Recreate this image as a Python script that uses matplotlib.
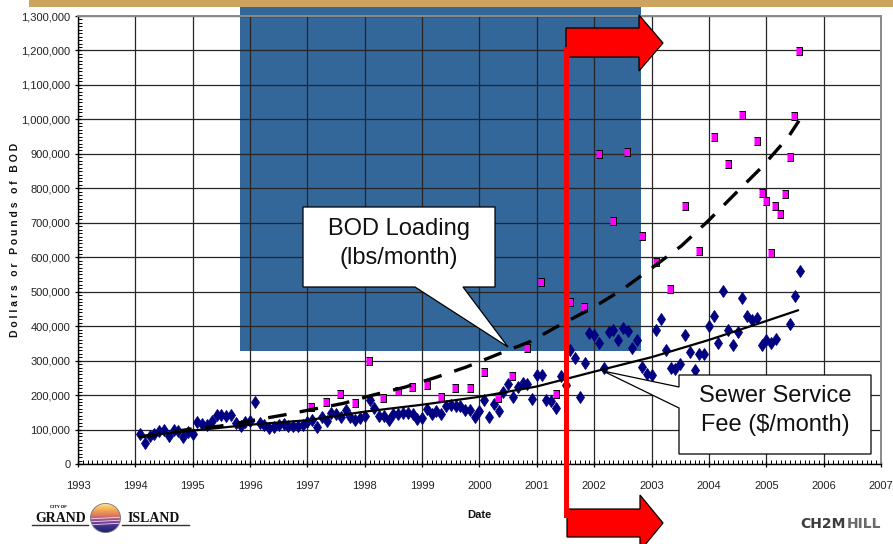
import numpy as np
import pandas as pd
import matplotlib
matplotlib.use('Agg')
import matplotlib.pyplot as plt
from matplotlib.patches import Polygon, Rectangle, Circle
from matplotlib.lines import Line2D
from matplotlib.colors import LinearSegmentedColormap
from matplotlib.ticker import MultipleLocator, FuncFormatter

# ---------------- data ----------------
# Sewer service fee ($/month), monthly from Feb 1994 (None = no reading)
fee_first_month = '1994-02-01'
fee_values = [
    88000, 62000, 82000, 88000, 96000, 99000, 82000, 98000, 95000, 77000, 94000, 88000,
    121000, 116000, 112000, 125000, 142000, 142000, 138000, 142000, 120000, 109000, 121000, 124000,
    180000, 118000, 113000, 104000, 106000, 112000, 117000, 111000, 111000, 111000, 114000, 121000,
    128000, 107000, 137000, 125000, 149000, 144000, 135000, 158000, 135000, 127000, 133000, 140000,
    187000, 163000, 140000, 140000, 127000, 146000, 146000, 149000, 149000, 144000, 130000, 133000,
    161000, 146000, 154000, 146000, 168000, 171000, 168000, 168000, 158000, 156000, 135000, 154000,
    187000, 135000, 174000, 155000, 210000, 233000, 194000, 223000, 234000, 232000, 190000,
    258000, 258000, 187000, 184000, 163000, 254000, 230000, 330000, 308000, 193000,
    293000, 379000, 374000, 350000, 280000, 382000, 390000, 359000, 395000, 385000, 338000,
    359000, 282000, 262000, 257000,
    390000, 420000, 330000, 280000, 275000, 289000, 374000, 325000, 272000, 318000, 318000,
    401000, 429000, 352000, 502000, 390000, 345000, 382000, 481000, 430000, 417000, 424000,
    345000, 359000, 350000, 362000,
    None, None,
    405000, 487000, 560000,
]

# BOD loading (lbs/month)
bod_dates = [1997.07, 1997.33, 1997.57, 1997.83, 1998.07, 1998.32, 1998.58, 1998.82,
             1999.08, 1999.33, 1999.57, 1999.83, 2000.07, 2000.33, 2000.56, 2000.82,
             2001.07, 2001.33, 2001.58, 2001.82, 2002.08, 2002.32, 2002.57, 2002.83,
             2003.08, 2003.32, 2003.58, 2003.83, 2004.09, 2004.33, 2004.57, 2004.84,
             2004.92, 2005.00, 2005.08, 2005.16, 2005.24, 2005.33, 2005.41, 2005.49, 2005.57]
bod_values = [165000, 179000, 202000, 178000, 300000, 191000, 213000, 222000,
              228000, 195000, 220000, 220000, 266000, 191000, 254000, 337000,
              527000, 202000, 471000, 456000, 899000, 705000, 906000, 662000,
              585000, 507000, 749000, 618000, 950000, 871000, 1014000, 938000,
              787000, 764000, 611000, 749000, 725000, 784000, 891000, 1009000, 1199000]

# trend lines
fee_trend_dates = [1994.05, 1995.0, 1996.0, 1997.0, 1998.0, 1999.0, 2000.0, 2001.0,
                   2002.0, 2003.0, 2004.0, 2005.0, 2005.57]
fee_trend_values = [80000, 97000, 114000, 127000, 152000, 172000, 195000, 225000,
                    268000, 310000, 360000, 415000, 447000]
bod_trend_dates = [1994.11, 1994.95, 1995.48, 1996.03, 1996.58, 1997.10, 1997.63, 1998.14,
                   1998.70, 1999.25, 1999.78, 2000.33, 2000.88, 2001.40, 2001.96, 2002.48,
                   2003.00, 2003.52, 2003.99, 2004.45, 2004.92, 2005.38, 2005.57]
bod_trend_values = [79000, 101000, 110000, 126000, 142000, 159000, 176000, 200000,
                    223000, 252000, 282000, 319000, 355000, 403000, 452000, 505000,
                    568000, 633000, 706000, 783000, 861000, 948000, 996000]

x_range = (1993, 2007)
y_range = (0, 1300000)

# ---------------- figure ----------------
W, H = 893, 544
plt.rcParams['font.family'] = ['Liberation Sans', 'DejaVu Sans']
fig = plt.figure(figsize=(W / 100, H / 100), dpi=100)
fig.patch.set_facecolor('white')


def fx(x):
    return x / W


def fy(y):
    return 1 - y / H


def fpts(pts):
    return [(fx(a), fy(b)) for a, b in pts]


# gold banner on top
fig.add_artist(Rectangle((fx(29), fy(7)), (W - 29) / W, 7 / H, transform=fig.transFigure,
                         facecolor='#CDA360', edgecolor='none', zorder=0.2))
# blue background block
fig.add_artist(Rectangle((fx(240), fy(351)), (641 - 240) / W, (351 - 7) / H,
                         transform=fig.transFigure, facecolor='#336699',
                         edgecolor='none', zorder=0.5))

ax = fig.add_axes([fx(78), fy(464), (881 - 78) / W, (464 - 16) / H])
ax.set_zorder(1)
ax.patch.set_alpha(0)

fee_months = pd.date_range(fee_first_month, periods=len(fee_values), freq='MS')
fee_dates = np.asarray(fee_months.year + (fee_months.month - 1) / 12.0, dtype=float)
fee_arr = np.array([np.nan if v is None else v for v in fee_values], dtype=float)

ax.plot(fee_dates, fee_arr, ls='none', marker='d', ms=6.0, mfc='#000080',
        mec='#000080', mew=0.6, zorder=3)
rect_marker = [(-0.36, -0.5), (0.36, -0.5), (0.36, 0.5), (-0.36, 0.5)]
ax.plot(bod_dates, bod_values, ls='none', marker=rect_marker, ms=6.2, mfc='#FF00FF',
        mec='black', mew=0.7, zorder=3.2)
ax.plot(fee_trend_dates, fee_trend_values, color='black', lw=1.6, zorder=4,
        solid_capstyle='butt')
ax.plot(bod_trend_dates, bod_trend_values, color='black', lw=2.4, zorder=4,
        ls=(0, (5.6, 4.0)), dash_capstyle='butt')

ax.set_xlim(*x_range)
ax.set_ylim(*y_range)
ax.xaxis.set_major_locator(MultipleLocator(1))
ax.xaxis.set_minor_locator(MultipleLocator(1 / 12))
ax.yaxis.set_major_locator(MultipleLocator(100000))
ax.yaxis.set_minor_locator(MultipleLocator(10000))
ax.xaxis.set_major_formatter(FuncFormatter(lambda v, p: f'{int(round(v))}'))
ax.yaxis.set_major_formatter(FuncFormatter(lambda v, p: f'{int(round(v)):,}'))
ax.grid(True, which='major', color='#262626', lw=0.9)
ax.set_axisbelow(True)

for s in ['left', 'bottom']:
    ax.spines[s].set_color('black')
    ax.spines[s].set_linewidth(1.0)
for s in ['top', 'right']:
    ax.spines[s].set_color('#8a8a8a')
    ax.spines[s].set_linewidth(1.4)

ax.tick_params(axis='both', which='major', direction='inout', length=5, width=0.9,
               color='black', labelsize=8, labelfontfamily='Liberation Sans',
               labelcolor='#222222')
ax.tick_params(axis='both', which='minor', direction='in', length=3, width=0.7,
               color='black')
ax.tick_params(axis='x', which='major', pad=10)
ax.tick_params(axis='y', which='major', pad=3)

# axis titles
fig.text(fx(15), fy(240), 'D o l l a r s   o r   P o u n d s   o f   B O D', rotation=90,
         ha='center', va='center', fontsize=7.5, fontweight='bold', color='#111111')
fig.text(fx(479), fy(515), 'Date', ha='center', va='center', fontsize=8,
         fontweight='bold', color='#111111')

# callouts
bod_call = [(303, 207), (495, 207), (495, 287), (463, 287), (508, 347), (415, 287), (303, 287)]
fig.add_artist(Polygon(fpts(bod_call), closed=True, transform=fig.transFigure,
                       facecolor='white', edgecolor='black', lw=0.9, zorder=6))
fig.text(fx(399), fy(229), 'BOD Loading', ha='center', va='center', fontsize=17,
         color='#111111', zorder=7)
fig.text(fx(399), fy(258), '(lbs/month)', ha='center', va='center', fontsize=17,
         color='#111111', zorder=7)

fee_call = [(679, 375), (871, 375), (871, 454), (679, 454), (679, 408), (603, 371), (679, 387)]
fig.add_artist(Polygon(fpts(fee_call), closed=True, transform=fig.transFigure,
                       facecolor='white', edgecolor='black', lw=0.9, zorder=6))
fig.text(fx(775), fy(396), 'Sewer Service', ha='center', va='center', fontsize=17,
         color='#111111', zorder=7)
fig.text(fx(775), fy(425), 'Fee ($/month)', ha='center', va='center', fontsize=17,
         color='#111111', zorder=7)

# red arrows
top_arrow = [(566, 28), (639, 28), (639, 15), (663, 43), (639, 71), (639, 57), (566, 57)]
bot_arrow = [(567, 509), (640, 509), (640, 495), (663, 523), (640, 551), (640, 537), (567, 537)]
for arr in (top_arrow, bot_arrow):
    fig.add_artist(Polygon(fpts(arr), closed=True, transform=fig.transFigure,
                           facecolor='#FF0000', edgecolor='black', lw=0.9, zorder=8))
fig.add_artist(Rectangle((fx(564), fy(518)), 5 / W, (518 - 47) / H, transform=fig.transFigure,
                         facecolor='#FF0000', edgecolor='none', zorder=8.5))

# Grand Island logo
fig.text(fx(58), fy(507), 'CITY OF', ha='center', va='center', fontsize=3.2,
         fontweight='bold', color='black')
fig.text(fx(61), fy(518.5), 'GRAND', ha='center', va='center', fontsize=10,
         fontweight='bold', family=['Liberation Serif', 'DejaVu Serif'], color='#111111')
fig.text(fx(154), fy(518.5), 'ISLAND', ha='center', va='center', fontsize=10,
         fontweight='bold', family=['Liberation Serif', 'DejaVu Serif'], color='#111111')
fig.add_artist(Line2D([fx(32), fx(88)], [fy(524.5), fy(524.5)], transform=fig.transFigure,
                      color='#333333', lw=1.0))
fig.add_artist(Line2D([fx(122), fx(189)], [fy(524.5), fy(524.5)], transform=fig.transFigure,
                      color='#333333', lw=1.0))
lax = fig.add_axes([fx(90), fy(533), 31 / W, 30 / H])
lax.set_xlim(-1, 1)
lax.set_ylim(-1, 1)
lax.axis('off')
cmap = LinearSegmentedColormap.from_list('logo', ['#1A2470', '#3A2E8A', '#8A4A9A', '#E07A60',
                                                  '#F4B050', '#FBE7A0'])
grad = np.linspace(0, 1, 64).reshape(-1, 1)
im = lax.imshow(grad, cmap=cmap, extent=(-1, 1, -1, 1), origin='lower', aspect='auto')
clip = Circle((0, 0), 0.97, transform=lax.transData)
im.set_clip_path(clip)
for yy in (-0.05, -0.25, -0.45):
    ln, = lax.plot([-0.9, 0.9], [yy, yy + 0.1], color='white', lw=0.6, alpha=0.8)
    ln.set_clip_path(clip)
lax.add_patch(Circle((0, 0), 0.97, facecolor='none', edgecolor='#777777', lw=0.6))

# CH2M HILL logo
fig.text(fx(846), fy(524), 'CH2M', ha='right', va='center', fontsize=10,
         fontweight='bold', family='DejaVu Sans', color='#3c3c3c')
fig.text(fx(847), fy(524), 'HILL', ha='left', va='center', fontsize=10,
         fontweight='bold', family='DejaVu Sans', color='#6a6a6a')

fig.savefig('out.png', dpi=100)
